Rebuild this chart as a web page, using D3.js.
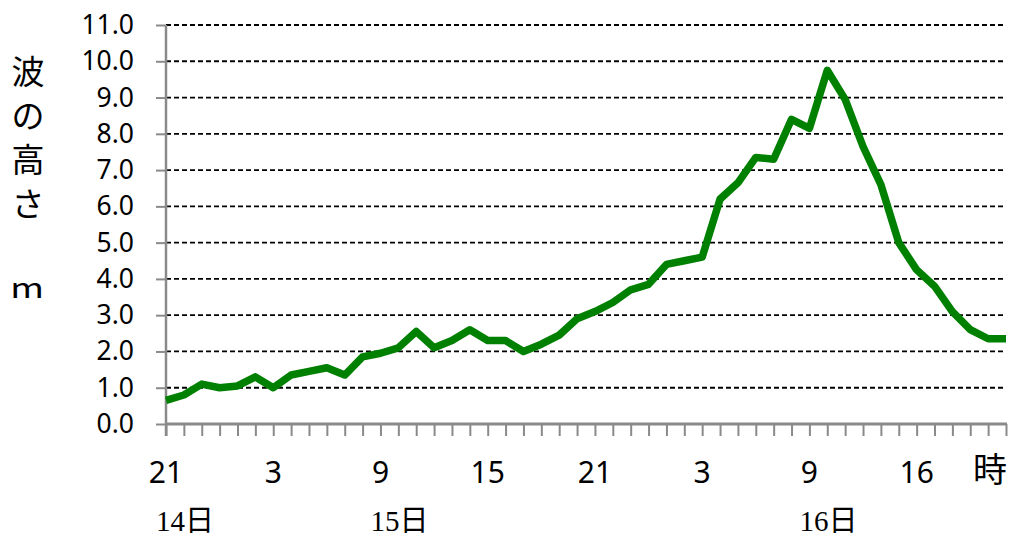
<!DOCTYPE html>
<html>
<head>
<meta charset="utf-8">
<script src="https://cdn.jsdelivr.net/npm/d3@7"></script>
<style>
  html, body { margin: 0; padding: 0; background: #fff; }
  svg { display: block; }
</style>
</head>
<body>
<svg id="chart" width="1010" height="537"></svg>
<script>
// Hourly observation times, from 21h on the 14th to 20h on the 16th
const hours = [21, 22, 23,
  0, 1, 2, 3, 4, 5, 6, 7, 8, 9, 10, 11, 12, 13, 14, 15, 16, 17, 18, 19, 20, 21, 22, 23,
  0, 1, 2, 3, 4, 5, 6, 7, 8, 9, 10, 11, 12, 13, 14, 15, 16, 17, 18, 19, 20];

// Wave height (m) for each hour
const waveHeight = [0.65, 0.8, 1.1, 1.0, 1.05, 1.3, 1.0, 1.35, 1.45, 1.55, 1.35, 1.85,
  1.95, 2.1, 2.55, 2.1, 2.3, 2.6, 2.3, 2.3, 2.0, 2.2, 2.45, 2.9,
  3.1, 3.35, 3.7, 3.85, 4.4, 4.5, 4.6, 6.2, 6.65, 7.35, 7.3, 8.4,
  8.15, 9.75, 8.95, 7.65, 6.6, 5.0, 4.25, 3.8, 3.1, 2.6, 2.35, 2.35];

// Hour labels and the points they sit under
const hourTickLabels = ["21", "3", "9", "15", "21", "3", "9", "16"];
const hourTickIndex = [0, 6, 12, 18, 24, 30, 36, 42];

// Day labels and the points they start at
const dayLabels = ["14日", "15日", "16日"];
const dayLabelIndex = [0, 12, 36];

// Value axis ticks
const yTickValues = [0, 1, 2, 3, 4, 5, 6, 7, 8, 9, 10, 11];
const yTitleChars = ["波", "の", "高", "さ"];

const svg = d3.select("#chart");
const plotLeft = 166, plotRight = 1006, plotTop = 25, plotBottom = 424;

const x = d3.scalePoint().domain(d3.range(hours.length)).range([plotLeft, plotRight]);
const y = d3.scaleLinear().domain([0, 11]).range([plotBottom, plotTop]);

const axisColor = "#8a8a8a";
const sans = "'Noto Sans', 'Open Sans', sans-serif";
const cjk = "'Noto Sans CJK JP', sans-serif";

// Dashed horizontal gridlines
svg.append("g")
  .selectAll("line")
  .data(yTickValues.filter(v => v > 0))
  .join("line")
  .attr("x1", plotLeft).attr("x2", plotRight - 2)
  .attr("y1", d => y(d)).attr("y2", d => y(d))
  .attr("stroke", "#000")
  .attr("stroke-width", 1.8)
  .attr("stroke-dasharray", "5,3");

// Value axis
const yAxis = svg.append("g")
  .attr("transform", `translate(${plotLeft},0)`)
  .call(d3.axisLeft(y).tickValues(yTickValues).tickFormat(d3.format(".1f"))
    .tickSize(10).tickPadding(22));
yAxis.select(".domain").remove();
yAxis.selectAll(".tick line").attr("stroke", axisColor).attr("stroke-width", 2);
yAxis.selectAll(".tick text")
  .attr("fill", "#000")
  .style("font-family", sans)
  .style("font-size", "26.5px");
svg.append("line")
  .attr("x1", plotLeft).attr("x2", plotLeft)
  .attr("y1", plotTop).attr("y2", plotBottom + 12)
  .attr("stroke", axisColor).attr("stroke-width", 2.5);

// Hour axis: a tick at every observation, labels every six hours
const xAxis = svg.append("g")
  .attr("transform", `translate(0,${plotBottom})`)
  .call(d3.axisBottom(x).tickSize(12).tickFormat(""));
xAxis.select(".domain").remove();
xAxis.selectAll(".tick line").attr("stroke", axisColor).attr("stroke-width", 2);
svg.append("line")
  .attr("x1", plotLeft).attr("x2", plotRight + 1)
  .attr("y1", plotBottom).attr("y2", plotBottom)
  .attr("stroke", axisColor).attr("stroke-width", 3);

svg.append("g")
  .selectAll("text")
  .data(hourTickLabels)
  .join("text")
  .attr("x", (d, i) => x(hourTickIndex[i]))
  .attr("y", 483)
  .attr("text-anchor", "middle")
  .style("font-family", sans)
  .style("font-size", "30px")
  .text(d => d);

svg.append("text")
  .attr("x", 990).attr("y", 482)
  .attr("text-anchor", "middle")
  .style("font-family", cjk)
  .style("font-size", "34px")
  .text("時");

// Day labels
svg.append("g")
  .selectAll("text")
  .data(dayLabels)
  .join("text")
  .attr("x", (d, i) => x(dayLabelIndex[i]) - 10)
  .attr("y", 531)
  .style("font-family", "'Liberation Serif', 'Noto Sans CJK JP', serif")
  .style("font-size", "29px")
  .text(d => d);

// Vertical axis title
svg.append("g")
  .selectAll("text")
  .data(yTitleChars)
  .join("text")
  .attr("x", 28)
  .attr("y", (d, i) => 84 + i * 44)
  .attr("text-anchor", "middle")
  .style("font-family", cjk)
  .style("font-size", "33px")
  .text(d => d);
svg.append("text")
  .attr("transform", "translate(27,298) scale(1.3,1)")
  .attr("text-anchor", "middle")
  .style("font-family", cjk)
  .style("font-size", "28px")
  .text("m");

// Wave height line
const line = d3.line()
  .x((d, i) => x(i))
  .y(d => y(d));
svg.append("path")
  .datum(waveHeight)
  .attr("d", line)
  .attr("fill", "none")
  .attr("stroke", "#008000")
  .attr("stroke-width", 7.5)
  .attr("stroke-linejoin", "round")
  .attr("stroke-linecap", "butt");
</script>
</body>
</html>
